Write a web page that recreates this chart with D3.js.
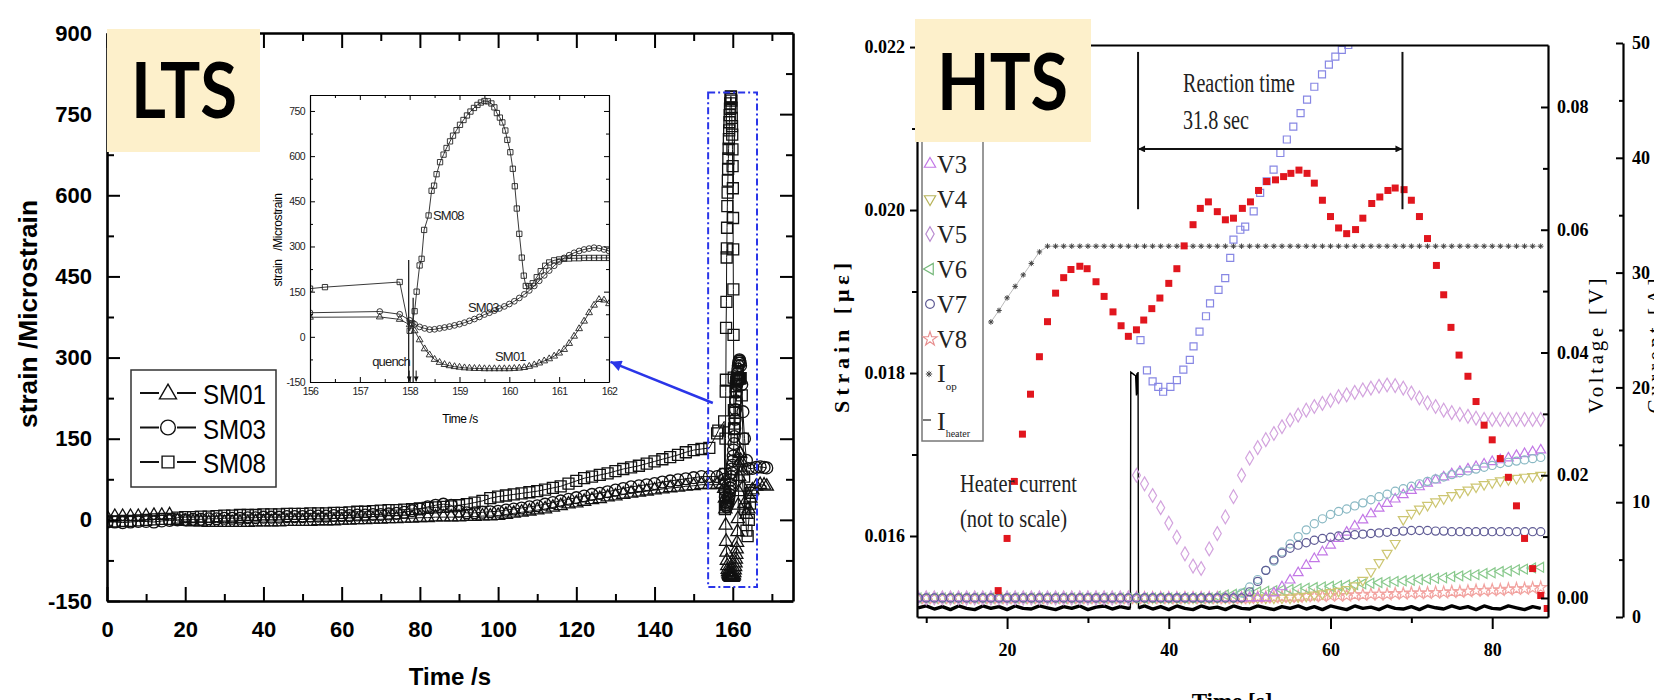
<!DOCTYPE html>
<html>
<head>
<meta charset="utf-8">
<script src="https://cdn.jsdelivr.net/npm/d3@7"></script>
<style>
  body { margin: 0; background: #fff; }
  svg { display: block; }
  .lts text { font-family: "Liberation Sans", Arial, sans-serif; }
  .hts text { font-family: "Liberation Serif", "Times New Roman", serif; }
  .tag text { font-family: Lato, "Open Sans", sans-serif; font-weight: bold; }
</style>
</head>
<body>
<svg id="fig" width="1654" height="700"></svg>
<script>
// ================= LTS data =================
// main run, every 2 s
const ltsT = [0,2,4,6,8,10,12,14,16,18,20,22,24,26,28,30,32,34,36,38,40,42,44,46,48,50,52,54,56,58,
  60,62,64,66,68,70,72,74,76,78,80,82,84,86,88,90,92,94,96,98,100,102,104,106,108,110,112,114,116,118,
  120,122,124,126,128,130,132,134,136,138,140,142,144,146,148,150,152,154];
const sm01 = [5,6,6,6,6,7,8,8,9,-2, -3,-4,-4,-5,-5,-5,-5,-5,-5,-4, -4,-4,-4,-3,-3,-3,-3,-2,-2,-2,
  -1,-1,0,0,1,1,2,2,3,3, 4,4,5,5,5,5,6,6,7,7, 8,10,12,14,16,18,20,23,26,29,
  31,34,37,39,42,44,47,49,51,53, 55,57,59,60,62,63,65,65];
const sm03 = [-4,-4,-5,-4,-3,-3,-4,-2,-1,0, 0,1,1,2,2,3,3,3,4,4, 5,5,5,6,6,6,7,7,7,8,
  8,8,9,9,10,10,11,12,14,17, 20,24,27,29,27,16,13,13,14,15, 16,18,20,22,24,26,29,32,35,38,
  41,44,47,49,52,55,58,61,63,65, 67,70,72,74,76,78,80,80];
const sm08 = [-3,-3,-2,-2,-1,0,1,2,2,4, 5,5,6,6,7,8,8,9,9,9, 10,10,10,11,11,11,12,12,12,13,
  13,14,15,15,16,17,18,18,19,20, 21,22,23,24,25,27,29,32,35,40, 43,45,47,49,51,53,56,59,62,67,
  72,77,80,83,86,90,94,97,100,104, 108,112,116,120,125,129,131,133];

// quench detail (inset)
const insT = [156.0,157.4,157.8,158.0,158.1,158.2,158.3,
  158.4,158.5,158.6,158.7,158.8,158.9,159.0,159.1,159.2,159.3,
  159.4,159.5,159.6,159.7,159.8,159.9,160.0,160.1,160.2,160.3,
  160.4,160.5,160.6,160.7,160.8,160.9,161.0,161.1,161.2,161.3,
  161.4,161.5,161.6,161.7,161.8,161.9,162.0];
const ins01 = [65,66,58,40,20,-10,-40, -60,-75,-85,-92,-96,-99,-101,-103,-104,-105,
  -105,-106,-106,-106,-106,-106,-106,-105,-104,-102, -98,-93,-87,-80,-73,-64,-54,-42,-22,2,
  27,52,80,105,124,122,110];
const ins03 = [80,84,75,55,42,33,28, 24,25,28,31,34,38,42,47,53,59,
  66,74,80,87,94,101,109,118,129,141, 154,169,186,204,220,236,250,262,271,279,
  285,290,293,296,294,290,285];
const ins08T = [156.0,156.3,157.8,158.0,158.05,158.1,158.14,158.2,158.24,158.29,158.38,158.44,158.49,158.54,158.61,
  158.68,158.74,158.81,158.87,158.94,159.01,159.08,159.15,159.22,159.29,159.36,159.43,159.5,159.57,159.64,
  159.7,159.75,159.81,159.86,159.92,159.96,160.02,160.07,160.11,160.15,160.2,160.25,160.29,160.33,160.4,
  160.47,160.55,160.63,160.72,160.8,160.9,161.0,161.1,161.2,161.3,161.4,161.5,161.6,161.7,161.8,161.9,162.0];
const ins08 = [160,165,182,20,45,85,150,237,259,355,403,485,502,540,580,
  605,627,649,668,686,704,720,735,748,760,770,778,783,782,775,
  762,743,728,712,685,654,613,558,500,426,342,263,203,169,168,
  178,198,218,236,247,254,257,259,260,261,261,262,262,262,262,262,262];

// after the inset window (main plot only)
const tail01T = [162.3,162.6,163.0,163.5,164.0,164.5,165.0,166.0,167.0,168.0,168.7];
const tail01 = [90,60,30,10,20,40,55,62,65,64,62];
const tail03T = [162.3,162.6,163.0,163.5,164.0,165.0,166.0,167.0,168.0,168.7];
const tail03 = [250,200,150,110,95,95,97,98,97,96];
const tail08T = [162.3,162.6,162.9,163.2,163.5,163.8,164.1,164.4,164.7,165.0];
const tail08 = [230,150,80,20,-20,-30,0,30,50,55];

const ltsXTicks = [0,20,40,60,80,100,120,140,160];
const ltsXMinor = [10,30,50,70,90,110,130,150,170];
const ltsYTicks = [-150,0,150,300,450,600,750,900];
const ltsYMinor = [-75,75,225,375,525,675,825];
const insXTicks = [156,157,158,159,160,161,162];
const insXMinor = [156.5,157.5,158.5,159.5,160.5,161.5];
const insYTicks = [-150,0,150,300,450,600,750];
const insYMinor = [-75,75,225,375,525,675];
const ltsNames = ["SM01","SM03","SM08"];

// ================= HTS data =================
const hT = [9,10,11,12,13,14,15,16,17,18,19,20,21,22,23,24,25,26,27,28,29,30,31,32,33,34,35,36,37,38,
  39,40,41,42,43,44,45,46,47,48,49,50,51,52,53,54,55,56,57,58,59,60,61,62,63,64,65,66,67,68,
  69,70,71,72,73,74,75,76,77,78,79,80,81,82,83,84,85,86];
const v2 = [0,0,0,0,0,0,0,0,0,0,
  0,0,0,0,0,0,0,0,0,0,
  0,0,0,0,0,0,0,0,0,0,
  0,0,0,0,0,0,0,0,0,0,
  0.0008,0.0018,0.0030,0.0045,0.0060,0.0075,0.0088,0.0100,0.0111,0.0121,
  0.0129,0.0136,0.0141,0.0145,0.0150,0.0155,0.0160,0.0165,0.0169,0.0174,
  0.0178,0.0182,0.0186,0.0190,0.0194,0.0197,0.0201,0.0204,0.0207,0.0210,
  0.0213,0.0216,0.0219,0.0221,0.0223,0.0225,0.0227,0.0229];
const v3 = [0,0,0,0,0,0,0,0,0,0,
  0,0,0,0,0,0,0,0,0,0,
  0,0,0,0,0,0,0,0,0,0,
  0,0,0,0,0,0,0,0,0,0,
  0,0,0,0,
  0.0008,0.0018,0.0029,0.0041,0.0053,0.0064,0.0075,0.0086,0.0097,0.0107,
  0.0117,0.0127,0.0137,0.0146,0.0154,0.0161,0.0168,0.0175,0.0181,0.0187,
  0.0192,0.0197,0.0202,0.0206,0.0210,0.0214,0.0218,0.0222,0.0225,0.0228,
  0.0232,0.0235,0.0238,0.0241];
const v4 = [0,0,0,0,0,0,0,0,0,0,
  0,0,0,0,0,0,0,0,0,0,
  0,0,0,0,0,0,0,0,0,0,
  0,0,0,0,0,0,0,0,0,0,
  0,0,0,0,0,0,0,
  0.0002,0.0003,0.0005,0.0007,0.0009,0.0011,0.0014,0.0020,0.0029,0.0043,
  0.0058,0.0073,0.0089,0.0128,0.0138,0.0145,0.0151,0.0157,0.0162,0.0167,
  0.0172,0.0176,0.0181,0.0185,0.0188,0.0191,0.0193,0.0195,0.0197,0.0198,
  0.0200];
const v5 = [0,0,0,0,0,0,0,0,0,0,
  0,0,0,0,0,0,0,0,0,0,
  0,0,0,0,0,0,0,
  0.0200,0.0186,0.0167,0.0147,0.0122,0.0099,0.0072,0.0052,0.0048,0.0080,
  0.0105,0.0132,0.0165,0.0200,0.0228,0.0245,0.0258,0.0268,0.0279,0.0290,
  0.0298,0.0306,0.0312,0.0317,0.0322,0.0328,0.0331,0.0335,0.0339,0.0342,
  0.0345,0.0347,0.0346,0.0342,0.0334,0.0326,0.0318,0.0312,0.0306,0.0302,
  0.0299,0.0296,0.0293,0.0291,0.0291,0.0291,0.0291,0.0291,0.0291,0.0291,
  0.0291];
const v6 = [0,0,0,0,0,0,0,0,0,0,
  0,0,0,0,0,0,0,0,0,0,
  0,0,0,0,0,0,0,0,0,0,
  0,0,0,0,0,0,0,
  0.0003,0.0005,0.0006,0.0008,0.0009,0.0010,0.0011,0.0012,0.0013,0.0014,
  0.0015,0.0016,0.0017,0.0018,0.0019,0.0020,0.0021,0.0022,0.0023,0.0024,
  0.0025,0.0026,0.0027,0.0028,0.0029,0.0030,0.0031,0.0032,0.0033,0.0035,
  0.0036,0.0037,0.0038,0.0040,0.0041,0.0043,0.0044,0.0046,0.0047,0.0049,
  0.0050];
const v7 = [0,0,0,0,0,0,0,0,0,0,
  0,0,0,0,0,0,0,0,0,0,
  0,0,0,0,0,0,0,0,0,0,
  0,0,0,0,0,0,0,0,0,0,
  0,
  0.0010,0.0027,0.0045,0.0062,0.0073,0.0081,0.0086,0.0090,0.0094,0.0097,
  0.0099,0.0101,0.0102,0.0103,0.0104,0.0105,0.0106,0.0107,0.0108,0.0109,
  0.0110,0.0110,0.0110,0.0109,0.0109,0.0108,0.0108,0.0108,0.0108,0.0108,
  0.0108,0.0108,0.0108,0.0108,0.0108,0.0108,0.0108];
const v8 = [0,0,0,0,0,0,0,0,0,0,
  0,0,0,0,0,0,0,0,0,0,
  0,0,0,0,0,0,0,0,0,0,
  0,0,0,0,0,0,0,0,0,0,
  0,0,
  0.0001,0.0001,0.0001,0.0002,0.0002,0.0002,0.0003,0.0003,0.0003,0.0004,
  0.0004,0.0004,0.0005,0.0005,0.0006,0.0006,0.0006,0.0007,0.0007,0.0008,
  0.0008,0.0008,0.0009,0.0009,0.0010,0.0010,0.0011,0.0012,0.0012,0.0013,
  0.0013,0.0014,0.0015,0.0015,0.0016,0.0017];

// V1: open squares
const v1T = [36.5,37.3,38.0,38.7,39.3,40.2,41.0,41.8,42.6,43.06,43.8,44.6,45.1,46.15,46.98,
  47.6,48.0,48.85,49.45,50.5,51.3,52.1,52.96,53.8,54.6,55.4,56.3,57.1,58.0,58.95,59.8,60.6,61.4,62.2,63.0];
const v1 = [0.0420,0.0371,0.0353,0.0344,0.0336,0.0344,0.0355,0.0372,0.0388,0.0410,0.0434,0.0459,0.0480,0.0502,0.0521,
  0.0554,0.0584,0.0600,0.0605,0.0630,0.0660,0.0679,0.0698,0.0725,0.0747,0.0768,0.0790,0.0812,0.0833,0.0853,
  0.0869,0.0882,0.0893,0.0901,0.0912];

// strain (red squares, left axis)
const strainT = [18.9,20.0,20.9,21.9,22.9,24.0,25.0,26.0,27.0,27.9,29.0,29.9,31.0,32.0,33.1,34.1,35.0,
  36.0,36.9,37.9,38.9,40.0,41.0,41.9,43.0,43.9,44.9,46.0,47.0,48.0,49.1,50.1,51.1,52.1,53.2,54.2,
  55.1,56.1,57.1,58.0,59.0,60.0,61.0,62.0,63.1,64.0,65.1,66.1,67.1,68.0,69.1,70.0,71.0,72.0,73.1,74.0,
  74.9,75.9,77.0,78.0,79.0,80.0,81.0,82.0,83.0,84.0,85.0,86.0,86.8];
const strain = [0.01533,0.01597,0.01667,0.01725,0.01774,0.01820,0.01863,0.01898,0.01917,0.01927,0.01931,0.01928,
  0.01912,0.01894,0.01875,0.01858,0.01845,0.01853,0.01865,0.01879,0.01892,0.01910,0.01928,0.01956,0.01982,0.02002,0.02010,
  0.01998,0.01988,0.01990,0.02002,0.02010,0.02024,0.02035,0.02037,0.02041,0.02045,0.02049,0.02045,0.02033,0.02012,
  0.01992,0.01978,0.01971,0.01976,0.01990,0.02008,0.02016,0.02024,0.02027,0.02025,0.02012,0.01992,0.01965,0.01932,0.01896,
  0.01856,0.01822,0.01796,0.01765,0.01736,0.01718,0.01695,0.01672,0.01637,0.01597,0.01560,0.01527,0.01511];

// operating current (A, far right axis)
const iopT = [18,19,20,21,22,23,24,25,26,27,28,29,30,31,32,33,34,35,36,37,38,39,40,41,42,43,44,45,46,47,
  48,49,50,51,52,53,54,55,56,57,58,59,60,61,62,63,64,65,66,67,68,69,70,71,72,73,74,75,76,77,
  78,79,80,81,82,83,84,85,86];
const iop = [25.7,26.7,27.8,28.8,29.8,30.8,31.8,
  32.3,32.3,32.3,32.3,32.3,32.3,32.3,32.3,32.3,32.3,
  32.3,32.3,32.3,32.3,32.3,32.3,32.3,32.3,32.3,32.3,
  32.3,32.3,32.3,32.3,32.3,32.3,32.3,32.3,32.3,32.3,
  32.3,32.3,32.3,32.3,32.3,32.3,32.3,32.3,32.3,32.3,
  32.3,32.3,32.3,32.3,32.3,32.3,32.3,32.3,32.3,32.3,
  32.3,32.3,32.3,32.3,32.3,32.3,32.3,32.3,32.3,32.3,
  32.3,32.3];

// heater current (not to scale, drawn on the voltage axis)
const heatT = [9,10,11,12,13,14,15,16,17,18,19,20,21,22,23,24,25,26,27,28,29,30,31,32,33,34,35,
  35.25,35.3,35.5,35.7,35.9,36.0,36.05,36.1,36.15,36.2,36.25,
  37,38,39,40,41,42,43,44,45,46,47,48,49,50,51,52,53,54,55,56,57,58,59,60,61,
  62,63,64,65,66,67,68,69,70,71,72,73,74,75,76,77,78,79,80,81,82,83,84,85,86];
const heat = [-0.0016,-0.0013,-0.0018,-0.0014,-0.0019,-0.0013,-0.0017,-0.0019,-0.0013,-0.0017,
  -0.0014,-0.0019,-0.0013,-0.0017,-0.0018,-0.0013,-0.0016,-0.0019,-0.0014,-0.0017,
  -0.0013,-0.0019,-0.0015,-0.0013,-0.0018,-0.0014,-0.0017,
  -0.0016,0.0368,0.0366,0.0364,0.0362,0.0330,0.0366,0.0332,0.0365,0.0368,-0.0016,
  -0.0013,-0.0018,-0.0014,-0.0019,-0.0013,-0.0017,-0.0019,-0.0013,-0.0017,-0.0015,
  -0.0019,-0.0013,-0.0017,-0.0018,-0.0013,-0.0016,-0.0019,-0.0014,-0.0017,-0.0013,
  -0.0018,-0.0014,-0.0019,-0.0013,-0.0016,-0.0019,-0.0013,-0.0017,-0.0015,-0.0019,
  -0.0013,-0.0017,-0.0018,-0.0014,-0.0019,-0.0013,-0.0016,-0.0018,-0.0013,-0.0017,
  -0.0014,-0.0019,-0.0013,-0.0017,-0.0018,-0.0013,-0.0016,-0.0019,-0.0014,-0.0017];
const pulseStart = 35.25, pulseEnd = 36.25;

const strainTicks = [0.016,0.018,0.020,0.022];
const strainMinor = [0.017,0.019,0.021];
const timeTicks = [20,40,60,80];
const timeMinor = [10,30,50,70];
const voltTicks = [0,0.02,0.04,0.06,0.08];
const voltMinor = [0.01,0.03,0.05,0.07];
const currTicks = [0,10,20,30,40,50];
const currMinor = [5,15,25,35,45];
// legend rows visible below the HTS tag
const hNames = ["V3","V4","V5","V6","V7","V8"];

// ================= drawing =================
const svg = d3.select("#fig");
const defs = svg.append("defs");

function arrowMarker(id, color, w, h) {
  defs.append("marker").attr("id", id)
    .attr("viewBox", "0 0 10 10").attr("refX", 10).attr("refY", 5)
    .attr("markerUnits", "userSpaceOnUse")
    .attr("markerWidth", w).attr("markerHeight", h)
    .attr("orient", "auto-start-reverse")
    .append("path").attr("d", "M0,0L10,5L0,10Z").attr("fill", color);
}
arrowMarker("blueHead", "#2a35e8", 16, 11);
arrowMarker("blackHead", "#111", 13, 7);
arrowMarker("tinyHead", "#111", 6, 5);

function clip(id, x, y, w, h) {
  defs.append("clipPath").attr("id", id).append("rect")
    .attr("x", x).attr("y", y).attr("width", w).attr("height", h);
}

// marker scatter with optional connecting line
function scatter(g, xs, ys, sx, sy, o) {
  const pts = xs.map((x, i) => [sx(x), sy(ys[i])]);
  if (o.line) {
    g.append("path").attr("d", d3.line()(pts))
      .attr("fill", "none").attr("stroke", o.line).attr("stroke-width", o.lw || 1);
  }
  const shape = d3.symbol().type(o.type).size(o.size)();
  g.append("g").selectAll("path").data(pts).join("path")
    .attr("d", shape)
    .attr("transform", d => `translate(${d[0]},${d[1]})` + (o.rot ? ` rotate(${o.rot})` : ""))
    .attr("fill", o.fill || "none")
    .attr("stroke", o.stroke || "none")
    .attr("stroke-width", o.sw || 1);
}

function addAxis(parent, axis, tx, ty) {
  return parent.append("g").attr("transform", `translate(${tx},${ty})`).call(axis);
}
function styleAxis(g, size, weight, domainW, tickW) {
  g.select(".domain").attr("stroke-width", domainW);
  g.selectAll(".tick line").attr("stroke-width", tickW);
  g.selectAll(".tick text").style("font-size", size + "px").style("font-weight", weight);
}
function minorAxis(parent, axis, tx, ty, w) {
  const g = addAxis(parent, axis.tickFormat(""), tx, ty);
  g.select(".domain").remove();
  g.selectAll(".tick line").attr("stroke-width", w);
  return g;
}

const asterisk = {
  draw(ctx, size) {
    const r = Math.sqrt(size) / 2;
    for (let k = 0; k < 4; k++) {
      const a = k * Math.PI / 4;
      ctx.moveTo(r * Math.cos(a), r * Math.sin(a));
      ctx.lineTo(-r * Math.cos(a), -r * Math.sin(a));
    }
  }
};
const plain = d => String(d);

// ---------------- LTS panel ----------------
const lts = svg.append("g").attr("class", "lts");
const ltsX = d3.scaleLinear().domain([0, 175.4]).range([107, 793]);
const ltsY = d3.scaleLinear().domain([-150, 900]).range([601, 33]);
clip("ltsClip", 107, 33, 686, 568);

const ltsData = lts.append("g").attr("clip-path", "url(#ltsClip)");
const mainMark = [
  { t: ltsT.concat(insT, tail01T), v: sm01.concat(ins01, tail01), type: d3.symbolTriangle, size: 75 },
  { t: ltsT.concat(insT, tail03T), v: sm03.concat(ins03, tail03), type: d3.symbolCircle, size: 110 },
  { t: ltsT.concat(ins08T, tail08T), v: sm08.concat(ins08, tail08), type: d3.symbolSquare, size: 121 }
];
mainMark.forEach(s => scatter(ltsData, s.t, s.v, ltsX, ltsY,
  { type: s.type, size: s.size, stroke: "#111", sw: 1.3, line: "#111", lw: 1 }));

let ax = addAxis(lts, d3.axisBottom(ltsX).tickValues(ltsXTicks).tickFormat(plain).tickSizeInner(-14).tickSizeOuter(0).tickPadding(20), 0, 601);
styleAxis(ax, 22, "bold", 2.6, 2);
minorAxis(lts, d3.axisBottom(ltsX).tickValues(ltsXMinor).tickSize(-7), 0, 601, 2);
ax = addAxis(lts, d3.axisLeft(ltsY).tickValues(ltsYTicks).tickFormat(plain).tickSizeInner(-13).tickSizeOuter(0).tickPadding(15), 107, 0);
styleAxis(ax, 22, "bold", 2.6, 2);
minorAxis(lts, d3.axisLeft(ltsY).tickValues(ltsYMinor).tickSize(-7), 107, 0, 2);
ax = addAxis(lts, d3.axisTop(ltsX).tickValues(ltsXTicks).tickFormat("").tickSizeInner(-15).tickSizeOuter(0), 0, 33);
styleAxis(ax, 22, "bold", 2.6, 2);
minorAxis(lts, d3.axisTop(ltsX).tickValues(ltsXMinor).tickSize(-8), 0, 33, 2);
ax = addAxis(lts, d3.axisRight(ltsY).tickValues(ltsYTicks).tickFormat("").tickSizeInner(-13).tickSizeOuter(0), 793, 0);
styleAxis(ax, 22, "bold", 2.6, 2);
minorAxis(lts, d3.axisRight(ltsY).tickValues(ltsYMinor).tickSize(-7), 793, 0, 2);

lts.append("text").attr("x", 450).attr("y", 685).attr("text-anchor", "middle")
  .style("font-size", "24px").style("font-weight", "bold").text("Time /s");
lts.append("text").attr("transform", "translate(37,314) rotate(-90)").attr("text-anchor", "middle")
  .attr("textLength", 228).attr("lengthAdjust", "spacingAndGlyphs")
  .style("font-size", "25px").style("font-weight", "bold").text("strain /Microstrain");

// legend
const lg = lts.append("g");
lg.append("rect").attr("x", 131).attr("y", 370).attr("width", 145).attr("height", 117)
  .attr("fill", "#fff").attr("stroke", "#333").attr("stroke-width", 1.5);
const lgSym = [d3.symbolTriangle, d3.symbolCircle, d3.symbolSquare];
const lgSize = [125, 170, 140];
ltsNames.forEach((n, i) => {
  const cy = 393 + i * 34.5;
  lg.append("line").attr("x1", 140).attr("x2", 159).attr("y1", cy).attr("y2", cy).attr("stroke", "#111").attr("stroke-width", 2);
  lg.append("line").attr("x1", 177).attr("x2", 196).attr("y1", cy).attr("y2", cy).attr("stroke", "#111").attr("stroke-width", 2);
  lg.append("path").attr("d", d3.symbol().type(lgSym[i]).size(lgSize[i])())
    .attr("transform", `translate(168,${cy + (i === 0 ? 1 : 0)})`)
    .attr("fill", "none").attr("stroke", "#111").attr("stroke-width", 1.4);
  lg.append("text").attr("x", 203).attr("y", cy + 11).attr("textLength", 63).attr("lengthAdjust", "spacingAndGlyphs")
    .style("font-size", "28px").text(n);
});

// blue zoom box
lts.append("rect")
  .attr("x", ltsX(153.7)).attr("y", ltsY(790))
  .attr("width", ltsX(166.2) - ltsX(153.7)).attr("height", ltsY(-124) - ltsY(790))
  .attr("fill", "none").attr("stroke", "#2a35e8").attr("stroke-width", 2)
  .attr("stroke-dasharray", "7,3,2,3");

// inset
const insX = d3.scaleLinear().domain([156, 162]).range([310, 609]);
const insY = d3.scaleLinear().domain([-150, 803]).range([382, 95]);
const ins = lts.append("g");
ins.append("rect").attr("x", 310).attr("y", 95).attr("width", 299).attr("height", 287).attr("fill", "#fff");
clip("insClip", 310, 95, 299, 287);
const insData = ins.append("g").attr("clip-path", "url(#insClip)");

// quench markers
[[157.98, 255], [158.07, 130]].forEach(q => {
  insData.append("line").attr("x1", insX(q[0])).attr("x2", insX(q[0]))
    .attr("y1", insY(-150)).attr("y2", insY(q[1])).attr("stroke", "#222").attr("stroke-width", 1.3);
});
scatter(insData, insT, ins01, insX, insY, { type: d3.symbolTriangle, size: 20, stroke: "#222", sw: 0.9, line: "#222", lw: 0.9 });
scatter(insData, insT, ins03, insX, insY, { type: d3.symbolCircle, size: 26, stroke: "#222", sw: 0.9, line: "#222", lw: 0.9 });
scatter(insData, ins08T, ins08, insX, insY, { type: d3.symbolSquare, size: 28, stroke: "#222", sw: 0.9, line: "#222", lw: 0.9 });

ax = addAxis(ins, d3.axisBottom(insX).tickValues(insXTicks).tickFormat(plain).tickSizeInner(-5).tickSizeOuter(0).tickPadding(6), 0, 382);
styleAxis(ax, 10.5, "normal", 1.2, 1);
minorAxis(ins, d3.axisBottom(insX).tickValues(insXMinor).tickSize(-3), 0, 382, 1);
ax = addAxis(ins, d3.axisLeft(insY).tickValues(insYTicks).tickFormat(plain).tickSizeInner(-5).tickSizeOuter(0).tickPadding(5), 310, 0);
styleAxis(ax, 10.5, "normal", 1.2, 1);
minorAxis(ins, d3.axisLeft(insY).tickValues(insYMinor).tickSize(-3), 310, 0, 1);
ax = addAxis(ins, d3.axisTop(insX).tickValues(insXTicks).tickFormat("").tickSizeInner(-5).tickSizeOuter(0), 0, 95);
styleAxis(ax, 10.5, "normal", 1.2, 1);
minorAxis(ins, d3.axisTop(insX).tickValues(insXMinor).tickSize(-3), 0, 95, 1);
ax = addAxis(ins, d3.axisRight(insY).tickValues(insYTicks).tickFormat("").tickSizeInner(-5).tickSizeOuter(0), 609, 0);
styleAxis(ax, 10.5, "normal", 1.2, 1);
minorAxis(ins, d3.axisRight(insY).tickValues(insYMinor).tickSize(-3), 609, 0, 1);
ins.selectAll(".tick text").style("letter-spacing", "-0.6px").attr("fill", "#222");

ins.append("text").attr("x", 460).attr("y", 423).attr("text-anchor", "middle")
  .style("font-size", "12px").style("letter-spacing", "-0.5px").text("Time /s");
ins.append("text").attr("transform", "translate(282,240) rotate(-90)").attr("text-anchor", "middle")
  .style("font-size", "12px").style("letter-spacing", "-0.4px").attr("xml:space", "preserve").text("strain   /Microstrain");
[["SM08", 433, 220], ["SM03", 468, 312], ["SM01", 495, 361]].forEach(a => {
  ins.append("text").attr("x", a[1]).attr("y", a[2]).style("font-size", "13px")
    .style("letter-spacing", "-0.8px").attr("fill", "#222").text(a[0]);
});
ins.append("text").attr("x", 410).attr("y", 366).attr("text-anchor", "end")
  .style("font-size", "13px").style("letter-spacing", "-0.8px").attr("fill", "#222").text("quench");
[157.99, 158.13].forEach(t => {
  ins.append("line").attr("x1", insX(t)).attr("x2", insX(t)).attr("y1", insY(-112)).attr("y2", insY(-148))
    .attr("stroke", "#111").attr("stroke-width", 1).attr("marker-end", "url(#tinyHead)");
});

// arrow from the box to the inset
lts.append("line")
  .attr("x1", ltsX(154.9)).attr("y1", ltsY(216))
  .attr("x2", insX(162.03)).attr("y2", insY(-83))
  .attr("stroke", "#2a35e8").attr("stroke-width", 2.5).attr("marker-end", "url(#blueHead)");

// LTS tag
const tagL = svg.append("g").attr("class", "tag");
tagL.append("rect").attr("x", 107).attr("y", 29).attr("width", 153).attr("height", 123).attr("fill", "#fdf0cb");
tagL.append("text").attr("x", 131).attr("y", 118).attr("textLength", 106).attr("lengthAdjust", "spacingAndGlyphs")
  .style("font-size", "77px").attr("fill", "#000").text("LTS");

// ---------------- HTS panel ----------------
const hts = svg.append("g").attr("class", "hts");
const htsX = d3.scaleLinear().domain([8.86, 86.9]).range([917, 1548]);
const strainY = d3.scaleLinear().domain([0.015006, 0.022025]).range([617, 45]);
const voltY = d3.scaleLinear().domain([-0.0031, 0.0901]).range([617, 45]);
const currY = d3.scaleLinear().domain([0, 50]).range([617, 43]);
clip("htsClip", 917, 45, 631, 572);
const hData = hts.append("g").attr("clip-path", "url(#htsClip)");

// heater current: thin pulse, thick noisy baseline
const heatPts = heatT.map((t, i) => [htsX(t), voltY(heat[i]), t]);
hData.append("path").attr("d", d3.line()(heatPts.map(p => [p[0], p[1]])))
  .attr("fill", "none").attr("stroke", "#000").attr("stroke-width", 1.4);
[heatPts.filter(p => p[2] <= pulseStart), heatPts.filter(p => p[2] >= pulseEnd)].forEach(seg => {
  hData.append("path").attr("d", d3.line()(seg.map(p => [p[0], p[1]])))
    .attr("fill", "none").attr("stroke", "#000").attr("stroke-width", 3.4).attr("stroke-linejoin", "bevel");
});

const hSeries = [
  { v: v8, type: d3.symbolStar, size: 45, color: "#f2a3a0", rot: 0 },
  { v: v6, type: d3.symbolTriangle, size: 42, color: "#88c98c", rot: -90 },
  { v: v4, type: d3.symbolTriangle, size: 42, color: "#cdc672", rot: 180 },
  { v: v3, type: d3.symbolTriangle, size: 42, color: "#c277e6", rot: 0 },
  { v: v2, type: d3.symbolCircle, size: 52, color: "#8ab9c4", rot: 0 },
  { v: v5, type: d3.symbolDiamond, size: 55, color: "#d3a3de", rot: 0 },
  { v: v7, type: d3.symbolCircle, size: 52, color: "#5f5b95", rot: 0 }
];
hSeries.forEach(s => scatter(hData, hT, s.v, htsX, voltY,
  { type: s.type, size: s.size, stroke: s.color, sw: 1.2, rot: s.rot }));

scatter(hData, v1T, v1, htsX, voltY, { type: d3.symbolSquare, size: 49, stroke: "#8787e4", sw: 1.2 });
scatter(hData, iopT, iop, htsX, currY, { type: asterisk, size: 30, stroke: "#444", sw: 1, line: "#aaa", lw: 0.8 });
scatter(hData, strainT, strain, htsX, strainY, { type: d3.symbolSquare, size: 49, fill: "#e1161e" });

// axes
ax = addAxis(hts, d3.axisLeft(strainY).tickValues(strainTicks).tickFormat(d3.format(".3f")).tickSizeInner(7).tickSizeOuter(0).tickPadding(5), 917, 0);
styleAxis(ax, 18, "bold", 2.2, 2);
minorAxis(hts, d3.axisLeft(strainY).tickValues(strainMinor).tickSize(5), 917, 0, 2);
ax = addAxis(hts, d3.axisBottom(htsX).tickValues(timeTicks).tickFormat(plain).tickSizeInner(12).tickSizeOuter(0).tickPadding(14), 0, 617);
styleAxis(ax, 18, "bold", 2.2, 2);
minorAxis(hts, d3.axisBottom(htsX).tickValues(timeMinor).tickSize(6), 0, 617, 2);
ax = addAxis(hts, d3.axisTop(htsX).tickValues([]).tickSizeOuter(0), 0, 45);
styleAxis(ax, 18, "bold", 2.2, 2);
ax = addAxis(hts, d3.axisRight(voltY).tickValues(voltTicks).tickFormat(d3.format(".2f")).tickSizeInner(-7).tickSizeOuter(0).tickPadding(9), 1548, 0);
styleAxis(ax, 18, "bold", 2.2, 2);
minorAxis(hts, d3.axisRight(voltY).tickValues(voltMinor).tickSize(-5), 1548, 0, 2);
ax = addAxis(hts, d3.axisRight(currY).tickValues(currTicks).tickFormat(plain).tickSizeInner(-7).tickSizeOuter(0).tickPadding(9), 1623, 0);
styleAxis(ax, 18, "bold", 2.2, 2);
minorAxis(hts, d3.axisRight(currY).tickValues(currMinor).tickSize(-4), 1623, 0, 2);

hts.append("text").attr("transform", "translate(849,338) rotate(-90)").attr("text-anchor", "middle")
  .attr("textLength", 150).attr("lengthAdjust", "spacing")
  .style("font-size", "22px").style("font-weight", "bold").text("Strain [με]");
hts.append("text").attr("transform", "translate(1603,346) rotate(-90)").attr("text-anchor", "middle")
  .attr("textLength", 135).attr("lengthAdjust", "spacing")
  .style("font-size", "21px").text("Voltage [V]");
hts.append("text").attr("transform", "translate(1662,346) rotate(-90)").attr("text-anchor", "middle")
  .attr("textLength", 135).attr("lengthAdjust", "spacing")
  .style("font-size", "21px").text("Current [A]");
hts.append("text").attr("x", 1232).attr("y", 709).attr("text-anchor", "middle")
  .style("font-size", "23px").style("font-weight", "bold").text("Time [s]");

// reaction time annotation
[36.2, 68.9].forEach(t => {
  hts.append("line").attr("x1", htsX(t)).attr("x2", htsX(t))
    .attr("y1", strainY(0.02001)).attr("y2", strainY(0.02194))
    .attr("stroke", "#111").attr("stroke-width", 2);
});
hts.append("line").attr("x1", htsX(36.2)).attr("x2", htsX(68.9))
  .attr("y1", strainY(0.02075)).attr("y2", strainY(0.02075))
  .attr("stroke", "#111").attr("stroke-width", 2)
  .attr("marker-start", "url(#blackHead)").attr("marker-end", "url(#blackHead)");
hts.append("text").attr("x", 1183).attr("y", 92).attr("textLength", 112).attr("lengthAdjust", "spacingAndGlyphs")
  .style("font-size", "27px").attr("fill", "#222").text("Reaction time");
hts.append("text").attr("x", 1183).attr("y", 129).attr("textLength", 66).attr("lengthAdjust", "spacingAndGlyphs")
  .style("font-size", "27px").attr("fill", "#222").text("31.8 sec");
hts.append("text").attr("x", 960).attr("y", 492).attr("textLength", 117).attr("lengthAdjust", "spacingAndGlyphs")
  .style("font-size", "26px").attr("fill", "#222").text("Heater current");
hts.append("text").attr("x", 960).attr("y", 527).attr("textLength", 107).attr("lengthAdjust", "spacingAndGlyphs")
  .style("font-size", "26px").attr("fill", "#222").text("(not to scale)");

// legend (its top is hidden under the HTS tag)
const hl = hts.append("g");
hl.append("rect").attr("x", 922).attr("y", 48).attr("width", 61).attr("height", 393)
  .attr("fill", "#fff").attr("stroke", "#777").attr("stroke-width", 1.5);
const hlSym = [
  { type: d3.symbolTriangle, size: 55, color: "#c277e6", rot: 0 },
  { type: d3.symbolTriangle, size: 55, color: "#b8b45a", rot: 180 },
  { type: d3.symbolDiamond, size: 60, color: "#b98bd0", rot: 0 },
  { type: d3.symbolTriangle, size: 55, color: "#78b97c", rot: -90 },
  { type: d3.symbolCircle, size: 60, color: "#5f5b95", rot: 0 },
  { type: d3.symbolStar, size: 60, color: "#e89090", rot: 0 }
];
hNames.forEach((n, i) => {
  const base = 173 + i * 35;
  const s = hlSym[i];
  hl.append("path").attr("d", d3.symbol().type(s.type).size(s.size)())
    .attr("transform", `translate(930,${base - 9}) rotate(${s.rot})`)
    .attr("fill", "none").attr("stroke", s.color).attr("stroke-width", 1.2);
  hl.append("text").attr("x", 937).attr("y", base).attr("textLength", 30).attr("lengthAdjust", "spacingAndGlyphs")
    .style("font-size", "26px").attr("fill", "#222").text(n);
});
hl.append("path").attr("d", d3.symbol().type(asterisk).size(40)())
  .attr("transform", "translate(929,374)").attr("stroke", "#444").attr("stroke-width", 1);
const tIop = hl.append("text").attr("x", 937).attr("y", 382).style("font-size", "26px").attr("fill", "#222");
tIop.append("tspan").text("I");
tIop.append("tspan").attr("dy", 8).style("font-size", "11px").text("op");
hl.append("line").attr("x1", 923).attr("x2", 931).attr("y1", 420).attr("y2", 420).attr("stroke", "#222").attr("stroke-width", 1.2);
const tIh = hl.append("text").attr("x", 937).attr("y", 430).style("font-size", "26px").attr("fill", "#222");
tIh.append("tspan").text("I");
tIh.append("tspan").attr("dy", 7).style("font-size", "10px").text("heater");

// HTS tag
const tagH = svg.append("g").attr("class", "tag");
tagH.append("rect").attr("x", 915).attr("y", 19).attr("width", 176).attr("height", 123).attr("fill", "#fdf0cb");
tagH.append("text").attr("x", 937).attr("y", 110).attr("textLength", 131).attr("lengthAdjust", "spacingAndGlyphs")
  .style("font-size", "79px").attr("fill", "#000").text("HTS");
</script>
</body>
</html>
